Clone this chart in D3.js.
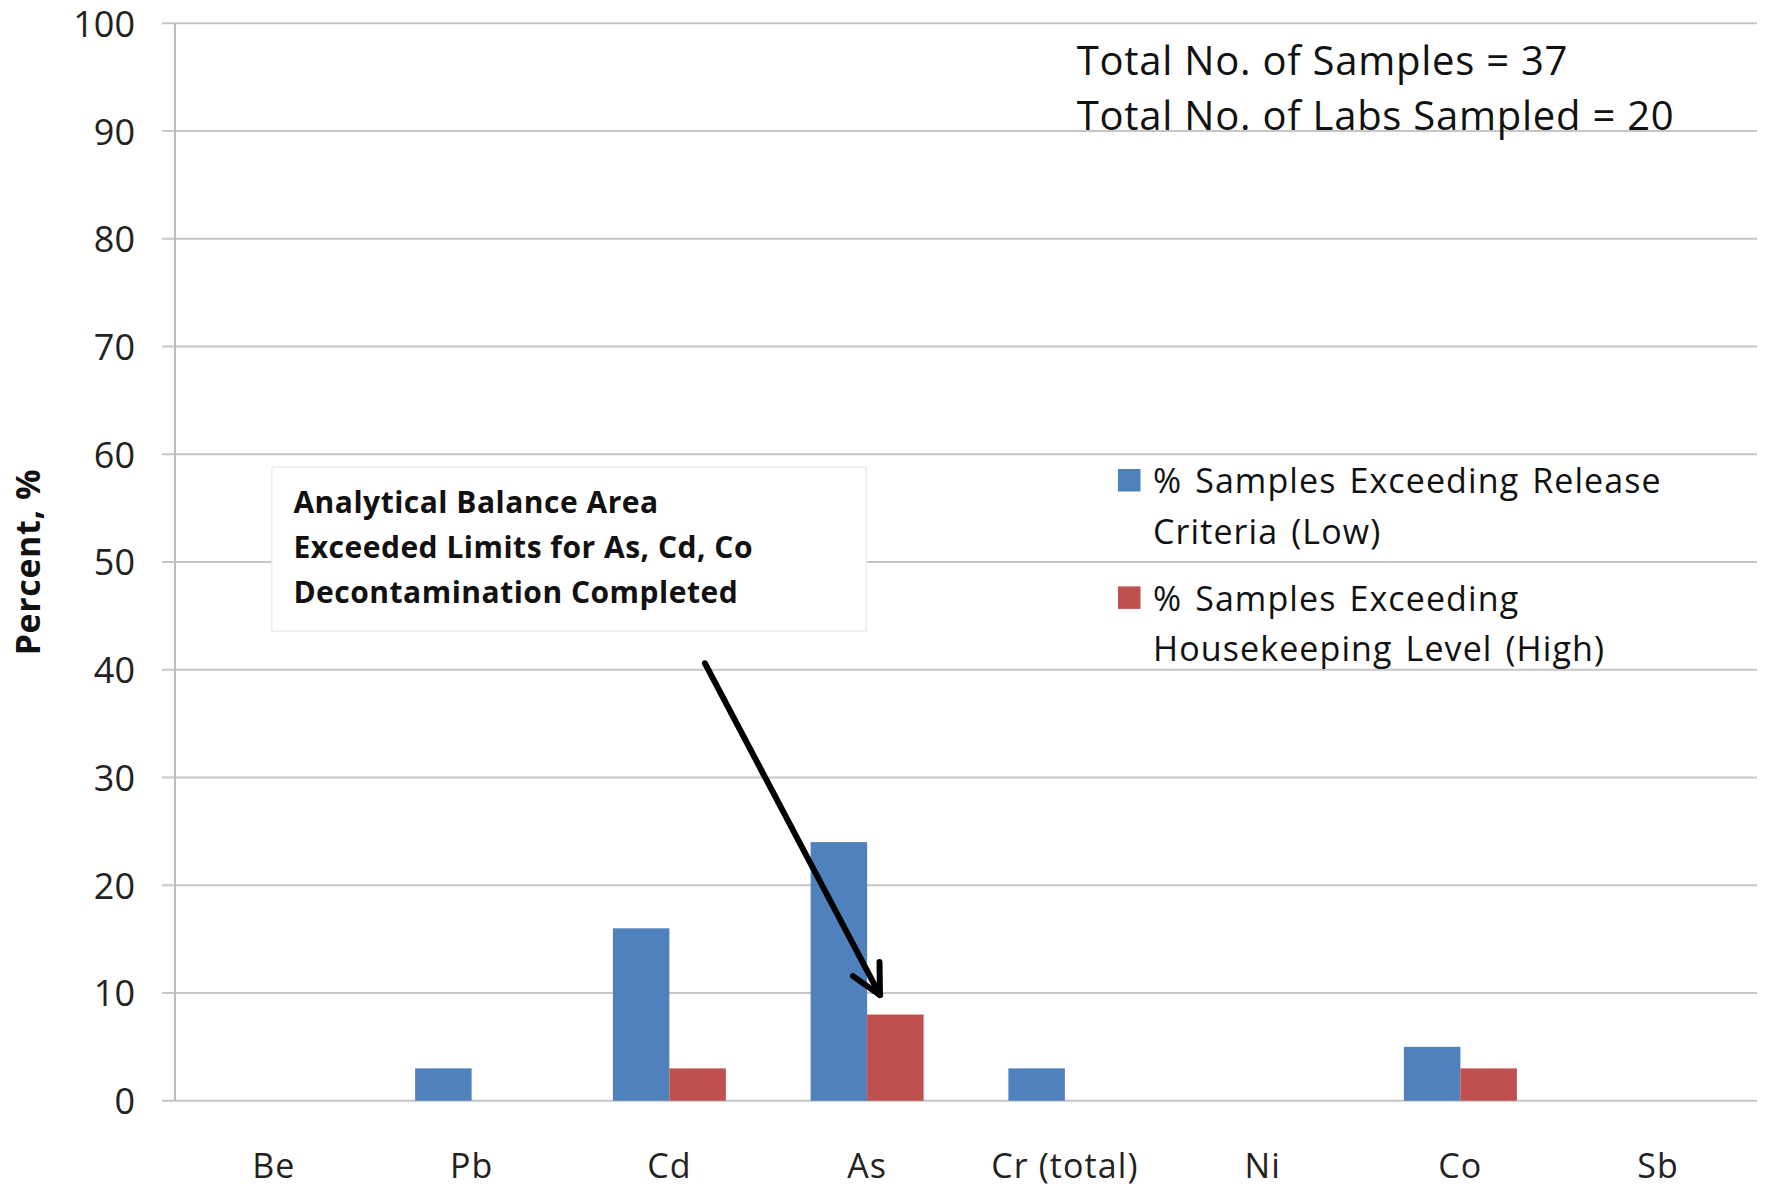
<!DOCTYPE html>
<html>
<head>
<meta charset="utf-8">
<script src="https://cdn.jsdelivr.net/npm/d3@7"></script>
<style>
  html, body { margin: 0; padding: 0; background: #fff; }
  svg { display: block; font-family: "Open Sans", Lato, sans-serif; }
</style>
</head>
<body>
<svg id="chart" width="1769" height="1190"></svg>
<script>
// ---- data ----
const categories = ["Be", "Pb", "Cd", "As", "Cr (total)", "Ni", "Co", "Sb"];
const lowSeries  = [0, 3, 16, 24, 3, 0, 5, 0];   // % Samples Exceeding Release Criteria (Low)
const highSeries = [0, 0, 3, 8, 0, 0, 3, 0];     // % Samples Exceeding Housekeeping Level (High)
const seriesNames = [
  ["% Samples Exceeding Release", "Criteria (Low)"],
  ["% Samples Exceeding", "Housekeeping Level (High)"]
];
const yTicks = [0, 10, 20, 30, 40, 50, 60, 70, 80, 90, 100];
const infoLines = ["Total No. of Samples = 37", "Total No. of Labs Sampled = 20"];
const noteLines = ["Analytical Balance Area", "Exceeded Limits for As, Cd, Co", "Decontamination Completed"];
const yTitle = "Percent, %";

// ---- layout ----
const plot = { left: 175, right: 1757, top: 23.3, bottom: 1100.7 };
const colors = ["#4F81BD", "#C0504D"];
const FONT = "'Open Sans', Lato, sans-serif";

const svg = d3.select("#chart");

const x = d3.scaleBand().domain(categories)
  .range([plot.left, plot.right]).paddingInner(0.4286).paddingOuter(0.2143);
const xs = d3.scaleBand().domain([0, 1]).range([0, x.bandwidth()]);
const y = d3.scaleLinear().domain([0, 100]).range([plot.bottom, plot.top]);
// continuous category-index scale for annotations
const xi = d3.scaleLinear().domain([0, categories.length]).range([plot.left, plot.right]);

// y tick labels
const yAxis = d3.axisLeft(y).tickValues(yTicks).tickSize(0).tickFormat(d3.format("d"));
const gy = svg.append("g").attr("transform", `translate(${plot.left},0)`).call(yAxis);
gy.select(".domain").remove();
gy.selectAll(".tick line").remove();
gy.selectAll(".tick text")
  .attr("x", -40)
  .attr("dy", "0.36em")
  .attr("fill", "#222")
  .style("font-size", "36px")
  .style("font-family", FONT);

// gridlines (extend left of axis like Excel major ticks)
svg.append("g").selectAll("line").data(yTicks).join("line")
  .attr("x1", plot.left - 13).attr("x2", plot.right)
  .attr("y1", d => y(d)).attr("y2", d => y(d))
  .attr("stroke", "#c6c6c6").attr("stroke-width", 2);

// y axis line
svg.append("line")
  .attr("x1", plot.left).attr("x2", plot.left)
  .attr("y1", y(100)).attr("y2", y(0))
  .attr("stroke", "#bcbcbc").attr("stroke-width", 2);

// bars
const series = [lowSeries, highSeries];
series.forEach((vals, si) => {
  svg.append("g").selectAll("rect").data(vals.map((v, i) => ({ c: categories[i], v })))
    .join("rect")
    .attr("x", d => x(d.c) + xs(si))
    .attr("width", xs.bandwidth())
    .attr("y", d => y(d.v))
    .attr("height", d => y(0) - y(d.v))
    .attr("fill", colors[si]);
});

// x labels
const xAxis = d3.axisBottom(x).tickSize(0);
const gx = svg.append("g").attr("transform", `translate(0,${plot.bottom})`).call(xAxis);
gx.select(".domain").remove();
gx.selectAll(".tick text")
  .attr("y", 77).attr("dy", 0)
  .attr("fill", "#222")
  .attr("letter-spacing", 1.1)
  .style("font-size", "34px")
  .style("font-family", FONT);

// y title
svg.append("text")
  .attr("transform", `translate(40,${y(50)}) rotate(-90)`)
  .attr("text-anchor", "middle")
  .attr("font-weight", "bold")
  .attr("font-size", 34)
  .attr("letter-spacing", 0.6)
  .attr("fill", "#111")
  .text(yTitle);

// top-right info text
svg.append("g").selectAll("text").data(infoLines).join("text")
  .attr("x", xi(4.56))
  .attr("y", (d, i) => y(95.2) + i * 55)
  .attr("font-size", 40)
  .attr("letter-spacing", 0.75)
  .attr("fill", "#111")
  .text(d => d);

// legend
const lg = svg.append("g");
seriesNames.forEach((lines, si) => {
  const base = si === 0 ? 493.3 : 610.7;
  lg.append("rect")
    .attr("x", 1118).attr("y", base - 24.3).attr("width", 22.5).attr("height", 22.5)
    .attr("fill", colors[si]);
  lines.forEach((t, li) => {
    lg.append("text")
      .attr("x", 1153).attr("y", base + li * 50.5)
      .attr("font-size", 34)
      .attr("letter-spacing", 1.1)
      .attr("word-spacing", 3)
      .attr("fill", "#111")
      .text(t);
  });
});

// annotation box
const box = { x0: 0.49, x1: 3.495, v0: 58.8, v1: 43.6 };
svg.append("rect")
  .attr("x", xi(box.x0)).attr("y", y(box.v0))
  .attr("width", xi(box.x1) - xi(box.x0))
  .attr("height", y(box.v1) - y(box.v0))
  .attr("fill", "#fff")
  .attr("stroke", "#ececec").attr("stroke-width", 1.5);
svg.append("g").selectAll("text").data(noteLines).join("text")
  .attr("x", xi(box.x0) + 21.5)
  .attr("y", (d, i) => y(box.v0) + 46 + i * 45)
  .attr("font-size", 30)
  .attr("letter-spacing", 0.5)
  .attr("font-weight", "bold")
  .attr("fill", "#111")
  .text(d => d);

// arrow
const arrow = { from: [2.68, 40.6], to: [3.565, 9.8] };
const p0 = [xi(arrow.from[0]), y(arrow.from[1])];
const p1 = [xi(arrow.to[0]), y(arrow.to[1])];
svg.append("line")
  .attr("x1", p0[0]).attr("y1", p0[1]).attr("x2", p1[0]).attr("y2", p1[1])
  .attr("stroke", "#000").attr("stroke-width", 6).attr("stroke-linecap", "round");
const ang = Math.atan2(p0[1] - p1[1], p0[0] - p1[0]);
const hl = 33, ha = 27 * Math.PI / 180;
const h1 = [p1[0] + hl * Math.cos(ang + ha), p1[1] + hl * Math.sin(ang + ha)];
const h2 = [p1[0] + hl * Math.cos(ang - ha), p1[1] + hl * Math.sin(ang - ha)];
svg.append("path")
  .attr("d", d3.line()([h1, p1, h2]))
  .attr("fill", "none").attr("stroke", "#000").attr("stroke-width", 6)
  .attr("stroke-linecap", "round").attr("stroke-linejoin", "round");
</script>
</body>
</html>
